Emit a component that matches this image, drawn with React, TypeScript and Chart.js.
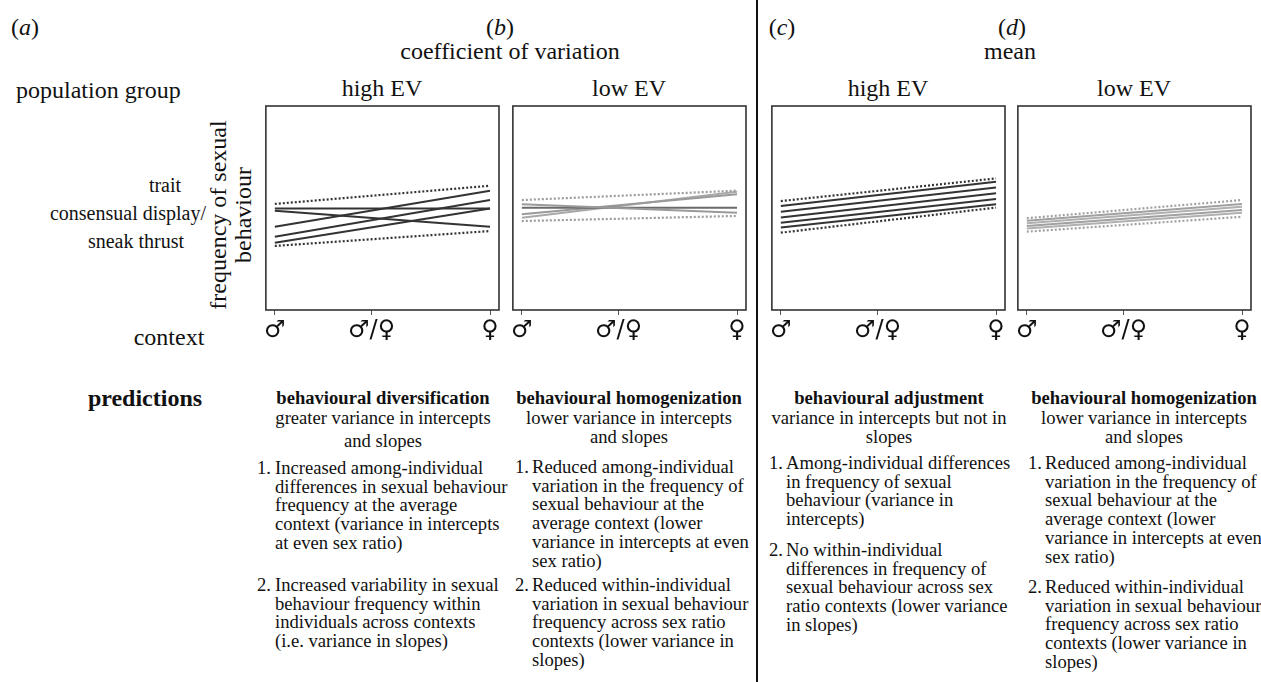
import React, { useEffect, useRef } from 'react';
import { Chart, registerables } from 'chart.js';

Chart.register(...registerables);

// ---------- data ----------
const contextTicks = [0, 0.45, 1];
const contextLabels = ['♂', '♂/♀', '♀'];
const lineX = [0, 1];

// (a) coefficient of variation, high EV
const aSolidStart = [49.7, 48.7, 40.8, 35.9, 33.0];
const aSolidEnd = [49.7, 40.8, 58.5, 53.9, 49.7];
const aBoundStart = [52.0, 31.4];
const aBoundEnd = [60.9, 38.7];

// (b) coefficient of variation, low EV
const bSolidStart = [51.8, 50.1, 46.9, 45.2];
const bSolidEnd = [47.7, 50.1, 56.7, 58.0];
const bBoundStart = [53.9, 43.6];
const bBoundEnd = [58.5, 46.1];

// (c) mean, high EV
const cSolidStart = [51.0, 48.2, 45.4, 42.8, 40.4];
const cSolidEnd = [62.9, 60.1, 57.2, 54.4, 51.8];
const cBoundStart = [53.4, 37.9];
const cBoundEnd = [64.5, 50.2];

// (d) mean, low EV
const dSolidStart = [43.8, 42.5, 41.2, 40.0];
const dSolidEnd = [52.0, 50.6, 49.0, 47.7];
const dBoundStart = [45.0, 38.4];
const dBoundEnd = [53.9, 45.7];

// ---------- layout ----------
const BOX_W = 234;
const BOX_H = 204;
const BOX_TOP = 106;
const AXIS_H = 42;
const PAD = 2;
const X_PAD = 9 / 216;

const framePlugin = {
  id: 'frame',
  afterDraw(chart: any) {
    const { ctx, chartArea: a } = chart;
    ctx.save();
    ctx.strokeStyle = '#333';
    ctx.lineWidth = 1.6;
    ctx.strokeRect(a.left, a.top, a.right - a.left, a.bottom - a.top);
    ctx.restore();
  },
};

type PanelProps = {
  left: number;
  solidStart: number[];
  solidEnd: number[];
  boundStart: number[];
  boundEnd: number[];
  solidColors: string[];
  boundColor: string;
};

function Panel(p: PanelProps) {
  const ref = useRef<HTMLCanvasElement | null>(null);
  useEffect(() => {
    if (!ref.current) return;
    const mk = (s: number, e: number) => lineX.map((x, j) => ({ x, y: j === 0 ? s : e }));
    const datasets: any[] = [];
    p.boundStart.forEach((s, i) => {
      datasets.push({
        data: mk(s, p.boundEnd[i]),
        borderColor: p.boundColor,
        borderWidth: 2.2,
        borderDash: [2, 2],
        pointRadius: 0,
        fill: false,
      });
    });
    p.solidStart.forEach((s, i) => {
      datasets.push({
        data: mk(s, p.solidEnd[i]),
        borderColor: p.solidColors[i % p.solidColors.length],
        borderWidth: 2,
        pointRadius: 0,
        fill: false,
      });
    });
    const chart = new Chart(ref.current, {
      type: 'line',
      data: { datasets },
      options: {
        animation: false,
        responsive: false,
        maintainAspectRatio: false,
        layout: { padding: { left: PAD, right: PAD, top: PAD, bottom: 0 } },
        plugins: { legend: { display: false }, tooltip: { enabled: false } },
        elements: { point: { radius: 0 } },
        scales: {
          x: {
            type: 'linear',
            min: -X_PAD,
            max: 1 + X_PAD,
            afterBuildTicks: (s: any) => {
              s.ticks = contextTicks.map((v) => ({ value: v }));
            },
            afterFit: (s: any) => {
              s.height = AXIS_H;
            },
            ticks: {
              callback: (_v: any, i: number) => contextLabels[i],
              font: { family: 'DejaVu Sans', size: 24 },
              color: '#111',
              padding: 1,
              maxRotation: 0,
              autoSkip: false,
            },
            grid: { drawOnChartArea: false, drawTicks: true, tickLength: 5, color: '#555', lineWidth: 1 },
            border: { display: false },
          },
          y: { display: false, min: 0, max: 100 },
        },
      } as any,
      plugins: [framePlugin],
    });
    return () => chart.destroy();
  }, []);
  return (
    <canvas
      ref={ref}
      width={BOX_W + 2 * PAD}
      height={BOX_H + PAD + AXIS_H}
      style={{ position: 'absolute', left: p.left - PAD, top: BOX_TOP - PAD, width: BOX_W + 2 * PAD, height: BOX_H + PAD + AXIS_H }}
    />
  );
}

function T(props: { x: number; y: number; children: any; anchor?: 'center' | 'left'; bold?: boolean; size?: number }) {
  const { x, y, children, anchor = 'center', bold, size = 24 } = props;
  return (
    <div
      style={{
        position: 'absolute',
        left: x,
        top: y,
        transform: anchor === 'center' ? 'translate(-50%,-50%)' : 'translate(0,-50%)',
        whiteSpace: 'nowrap',
        lineHeight: 1,
        fontSize: size,
        fontWeight: bold ? 'bold' : 'normal',
        color: '#111',
      }}
    >
      {children}
    </div>
  );
}

const PS = 18.6;
const LH = 18.7;

type Col = {
  cx: number;
  header: string[];
  headerY: number[];
  numX: number;
  textX: number;
  items: { y: number; lines: string[] }[];
};

const homogItems = (y1: number, y2: number) => [
  {
    y: y1,
    lines: [
      'Reduced among-individual',
      'variation in the frequency of',
      'sexual behaviour at the',
      'average context (lower',
      'variance in intercepts at even',
      'sex ratio)',
    ],
  },
  {
    y: y2,
    lines: [
      'Reduced within-individual',
      'variation in sexual behaviour',
      'frequency across sex ratio',
      'contexts (lower variance in',
      'slopes)',
    ],
  },
];

const cols: Col[] = [
  {
    cx: 383,
    header: ['behavioural diversification', 'greater variance in intercepts', 'and slopes'],
    headerY: [398, 418, 441],
    numX: 257,
    textX: 275,
    items: [
      {
        y: 468,
        lines: [
          'Increased among-individual',
          'differences in sexual behaviour',
          'frequency at the average',
          'context (variance in intercepts',
          'at even sex ratio)',
        ],
      },
      {
        y: 585,
        lines: [
          'Increased variability in sexual',
          'behaviour frequency within',
          'individuals across contexts',
          '(i.e. variance in slopes)',
        ],
      },
    ],
  },
  {
    cx: 629,
    header: ['behavioural homogenization', 'lower variance in intercepts', 'and slopes'],
    headerY: [398, 418, 437],
    numX: 515,
    textX: 532,
    items: homogItems(467, 585),
  },
  {
    cx: 889,
    header: ['behavioural adjustment', 'variance in intercepts but not in', 'slopes'],
    headerY: [398, 418, 437],
    numX: 769,
    textX: 786,
    items: [
      {
        y: 463,
        lines: ['Among-individual differences', 'in frequency of sexual', 'behaviour (variance in', 'intercepts)'],
      },
      {
        y: 550,
        lines: [
          'No within-individual',
          'differences in frequency of',
          'sexual behaviour across sex',
          'ratio contexts (lower variance',
          'in slopes)',
        ],
      },
    ],
  },
  {
    cx: 1144,
    header: ['behavioural homogenization', 'lower variance in intercepts', 'and slopes'],
    headerY: [398, 418, 437],
    numX: 1028,
    textX: 1045,
    items: homogItems(463, 587),
  },
];

export default function App() {
  useEffect(() => {
    document.body.style.margin = '0';
  }, []);
  const dark = '#333333';
  return (
    <div
      style={{
        position: 'absolute',
        left: 0,
        top: 0,
        width: 1261,
        height: 682,
        background: '#fff',
        fontFamily: "'Liberation Serif', 'Times New Roman', serif",
        overflow: 'hidden',
      }}
    >
      <T x={25} y={27}>(<i>a</i>)</T>
      <T x={500} y={27}>(<i>b</i>)</T>
      <T x={782} y={27}>(<i>c</i>)</T>
      <T x={1012} y={27}>(<i>d</i>)</T>
      <T x={510} y={51}>coefficient of variation</T>
      <T x={1010} y={51}>mean</T>

      <T x={16} y={90} anchor="left">population group</T>
      <T x={382} y={88}>high EV</T>
      <T x={629} y={88}>low EV</T>
      <T x={888} y={88}>high EV</T>
      <T x={1134} y={88}>low EV</T>

      <T x={165} y={185} size={20}>trait</T>
      <T x={128} y={213} size={20}>consensual display/</T>
      <T x={136} y={241} size={20}>sneak thrust</T>

      <div
        style={{
          position: 'absolute',
          left: 231,
          top: 215,
          transform: 'translate(-50%,-50%) rotate(-90deg)',
          whiteSpace: 'nowrap',
          textAlign: 'center',
          lineHeight: '25px',
          fontSize: 24,
          color: '#111',
        }}
      >
        frequency of sexual
        <br />
        behaviour
      </div>

      <T x={169} y={337}>context</T>
      <T x={145} y={398} bold>predictions</T>

      <Panel left={265} solidStart={aSolidStart} solidEnd={aSolidEnd} boundStart={aBoundStart} boundEnd={aBoundEnd} solidColors={[dark]} boundColor={dark} />
      <Panel left={512} solidStart={bSolidStart} solidEnd={bSolidEnd} boundStart={bBoundStart} boundEnd={bBoundEnd} solidColors={['#9a9a9a', '#6a6a6a', '#9a9a9a', '#a8a8a8']} boundColor="#9c9c9c" />
      <Panel left={771} solidStart={cSolidStart} solidEnd={cSolidEnd} boundStart={cBoundStart} boundEnd={cBoundEnd} solidColors={[dark]} boundColor={dark} />
      <Panel left={1017} solidStart={dSolidStart} solidEnd={dSolidEnd} boundStart={dBoundStart} boundEnd={dBoundEnd} solidColors={['#a0a0a0', '#b0b0b0']} boundColor="#a0a0a0" />

      <div style={{ position: 'absolute', left: 756, top: 0, width: 2, height: 682, background: '#111' }} />

      {cols.map((c, ci) => (
        <React.Fragment key={ci}>
          {c.header.map((h, hi) => (
            <T key={'h' + hi} x={c.cx} y={c.headerY[hi]} bold={hi === 0} size={PS}>
              {h}
            </T>
          ))}
          {c.items.map((it, ii) => (
            <React.Fragment key={'i' + ii}>
              <T x={c.numX} y={it.y} anchor="left" size={PS}>
                {ii + 1}.
              </T>
              {it.lines.map((ln, li) => (
                <T key={li} x={c.textX} y={it.y + li * LH} anchor="left" size={PS}>
                  {ln}
                </T>
              ))}
            </React.Fragment>
          ))}
        </React.Fragment>
      ))}
    </div>
  );
}
